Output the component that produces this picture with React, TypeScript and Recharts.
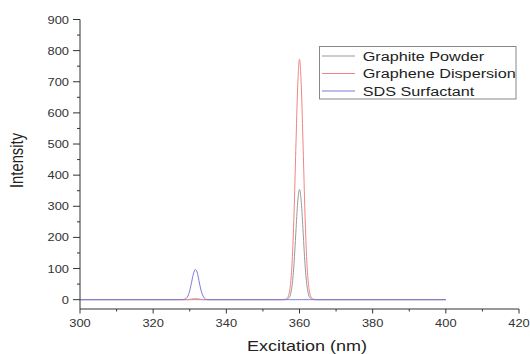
import React from 'react';
import { LineChart, Line, XAxis, YAxis } from 'recharts';

const excitation = [300, 310, 320, 327, 328, 328.5, 329, 329.5, 330, 330.5, 331, 331.5, 332, 332.5, 333, 333.5, 334, 334.5, 335, 336, 340, 350, 355, 356, 356.5, 357, 357.5, 358, 358.5, 359, 359.5, 360, 360.5, 361, 361.5, 362, 362.5, 363, 363.5, 364, 365, 370, 380, 390, 400];
const graphitePowder = [0, 0, 0, 0, 0, 0, 0, 0, 0, 0, 0, 0, 0, 0, 0, 0, 0, 0, 0, 0, 0, 0, 0, 0, 1, 4, 15, 48, 115, 215, 312, 354, 312, 215, 115, 48, 15, 4, 1, 0, 0, 0, 0, 0, 0];
const grapheneDispersion = [0, 0, 0, 0, 0, 0, 0, 0, 1, 2, 3, 3, 3, 2, 1, 0, 0, 0, 0, 0, 0, 0, 0, 1, 3, 13, 45, 124, 275, 486, 683, 772, 683, 486, 275, 124, 45, 13, 3, 1, 0, 0, 0, 0, 0];
const sdsSurfactant = [0, 0, 0, 0, 0, 1, 4, 12, 29, 56, 83, 97, 89, 62, 34, 15, 5, 1, 0, 0, 0, 0, 0, 0, 0, 0, 0, 0, 0, 0, 0, 0, 0, 0, 0, 0, 0, 0, 0, 0, 0, 0, 0, 0, 0];

const xTicks = [300, 310, 320, 330, 340, 350, 360, 370, 380, 390, 400, 410, 420];
const yTicks = [0, 50, 100, 150, 200, 250, 300, 350, 400, 450, 500, 550, 600, 650, 700, 750, 800, 850, 900];
const seriesNames = ['Graphite Powder', 'Graphene Dispersion', 'SDS Surfactant'];
const seriesColors = ['#999999', '#f08484', '#7a7ad8'];

const data = excitation.map((x, i) => ({
  x,
  gp: graphitePowder[i],
  gd: grapheneDispersion[i],
  sds: sdsSurfactant[i],
}));

const FONT = 'Liberation Sans, Arial, sans-serif';
const AXIS = '#333';

const XTick = (props: any) => {
  const { x, y, payload } = props;
  const v = payload.value as number;
  const major = v % 20 === 0;
  return (
    <g>
      <line x1={x} x2={x} y1={y} y2={y + (major ? 4.5 : 2.5)} stroke={AXIS} strokeWidth={1} />
      {major && (
        <g transform={`translate(${x},${y + 18}) scale(1.17,1)`}>
          <text x={0} y={0} textAnchor="middle" fontSize={11} fill="#333" fontFamily={FONT}>{v}</text>
        </g>
      )}
    </g>
  );
};

const YTick = (props: any) => {
  const { x, y, payload } = props;
  const v = payload.value as number;
  const major = v % 100 === 0;
  return (
    <g>
      <line x1={x - (major ? 7 : 3)} x2={x} y1={y} y2={y} stroke={AXIS} strokeWidth={1} />
      {major && (
        <g transform={`translate(${x - 11},${y + 4}) scale(1.17,1)`}>
          <text x={0} y={0} textAnchor="end" fontSize={11} fill="#333" fontFamily={FONT}>{v}</text>
        </g>
      )}
    </g>
  );
};

export default function App() {
  const rows = [56, 73.5, 91];
  return (
    <div style={{ position: 'fixed', left: 0, top: 0, width: 530, height: 354, background: '#fff' }}>
      <LineChart width={530} height={354} data={data} margin={{ top: 19.5, right: 11, bottom: 0, left: 0 }}>
        <XAxis
          dataKey="x"
          type="number"
          domain={[300, 420]}
          ticks={xTicks}
          interval={0}
          tickSize={0}
          tickMargin={0}
          tick={<XTick />}
          height={45}
          stroke={AXIS}
          allowDataOverflow
        />
        <YAxis
          type="number"
          domain={[-30, 900]}
          ticks={yTicks}
          interval={0}
          tickSize={0}
          tickMargin={0}
          tick={<YTick />}
          width={80}
          stroke={AXIS}
          allowDataOverflow
        />
        <Line dataKey="gp" type="monotone" stroke={seriesColors[0]} strokeWidth={1} dot={false} isAnimationActive={false} />
        <Line dataKey="gd" type="monotone" stroke={seriesColors[1]} strokeWidth={1} dot={false} isAnimationActive={false} />
        <Line dataKey="sds" type="monotone" stroke={seriesColors[2]} strokeWidth={1} dot={false} isAnimationActive={false} />
      </LineChart>
      <svg width={530} height={354} style={{ position: 'absolute', left: 0, top: 0, pointerEvents: 'none' }}>
        <g transform="translate(22.5,160.5) scale(1.2,1) rotate(-90)">
          <text x={0} y={0} textAnchor="middle" fontSize={14.8} fill="#222" fontFamily={FONT}>Intensity</text>
        </g>
        <g transform="translate(307,350.5) scale(1.2,1)">
          <text x={0} y={0} textAnchor="middle" fontSize={15} fill="#222" fontFamily={FONT}>Excitation (nm)</text>
        </g>
        <rect x={319.5} y={46.5} width={196.5} height={52.5} fill="#fff" stroke="#888" strokeWidth={1} />
        {seriesNames.map((name, i) => (
          <g key={name}>
            <line x1={322} x2={355} y1={rows[i]} y2={rows[i]} stroke={seriesColors[i]} strokeWidth={1} />
            <g transform={`translate(362.7,${rows[i] + 4.8}) scale(1.2,1)`}>
              <text x={0} y={0} fontSize={13.5} fill="#222" fontFamily={FONT}>{name}</text>
            </g>
          </g>
        ))}
      </svg>
    </div>
  );
}
